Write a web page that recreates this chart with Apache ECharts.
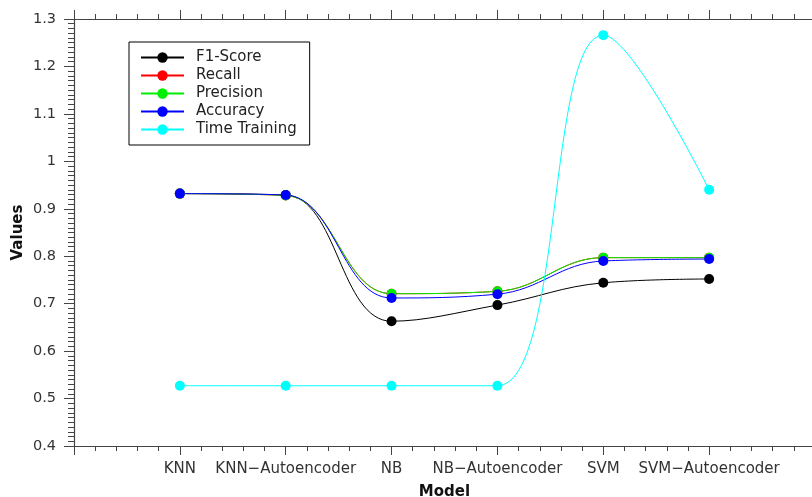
<!DOCTYPE html>
<html>
<head>
<meta charset="utf-8">
<script src="https://cdn.jsdelivr.net/npm/echarts@6/dist/echarts.min.js"></script>
<style>html,body{margin:0;padding:0;background:#fff;overflow:hidden}#c{position:absolute;left:0;top:0;width:812px;height:497px}</style>
</head>
<body>
<div id="c"></div>
<script>
const categories = ['KNN', 'KNN\u2212Autoencoder', 'NB', 'NB\u2212Autoencoder', 'SVM', 'SVM\u2212Autoencoder'];
const f1Score = [0.932, 0.929, 0.663, 0.697, 0.744, 0.752];
const recall = [0.932, 0.928, 0.721, 0.726, 0.797, 0.797];
const precision = [0.932, 0.928, 0.721, 0.726, 0.797, 0.797];
const accuracy = [0.932, 0.929, 0.712, 0.720, 0.790, 0.794];
const timeTraining = [0.527, 0.527, 0.527, 0.527, 1.266, 0.940];
const yTicks = { min: 0.4, max: 1.3, step: 0.1 };

const font = 'DejaVu Sans';
const toPts = arr => arr.map((v, i) => [i + 1, v]);

function mkSeries(name, data, color) {
  return {
    name, type: 'line', data: toPts(data), smooth: 0.4,
    symbol: 'circle', symbolSize: 10, showAllSymbol: true,
    lineStyle: { color, width: 1 }, itemStyle: { color },
    emphasis: { disabled: true }, clip: true
  };
}

const axisCommon = {
  type: 'value', min: 0, max: categories.length + 1, interval: 1,
  splitLine: { show: false },
  axisLine: { show: true, lineStyle: { color: '#444', width: 1.2 } },
  axisTick: { show: true, inside: false, length: 9, lineStyle: { color: '#444' } },
  minorTick: { show: true, splitNumber: 5, length: 5, lineStyle: { color: '#444' } },
  minorSplitLine: { show: false }
};

const chart = echarts.init(document.getElementById('c'), null, { renderer: 'canvas', width: 812, height: 497 });
chart.setOption({
  animation: false,
  backgroundColor: '#fff',
  grid: { left: 74, top: 19, bottom: 51, right: -3, containLabel: false, outerBoundsMode: 'none' },
  legend: {
    orient: 'vertical', left: 129, top: 42,
    data: ['F1-Score', 'Recall', 'Precision', 'Accuracy', 'Time Training'],
    borderColor: '#000', borderWidth: 1, padding: [8, 13, 8, 11],
    itemWidth: 43, itemHeight: 13, itemGap: 3,
    textStyle: { fontFamily: font, fontSize: 15, color: '#222', padding: [0, 0, 0, 7] }
  },
  xAxis: [
    Object.assign({}, axisCommon, {
      position: 'bottom',
      name: 'Model', nameLocation: 'middle', nameGap: 39, nameMoveOverlap: false,
      nameTextStyle: { fontFamily: font, fontSize: 15, fontWeight: 'bold', color: '#111' },
      axisLabel: {
        fontFamily: font, fontSize: 15, color: '#333', margin: 16,
        showMinLabel: true, showMaxLabel: true,
        formatter: v => (v >= 1 && v <= categories.length) ? categories[Math.round(v) - 1] : ''
      }
    }),
    Object.assign({}, axisCommon, {
      position: 'top',
      axisLabel: { show: false }
    })
  ],
  yAxis: {
    type: 'value', min: yTicks.min, max: yTicks.max, interval: yTicks.step,
    name: 'Values', nameLocation: 'middle', nameGap: 48, nameMoveOverlap: false,
    nameTextStyle: { fontFamily: font, fontSize: 15, fontWeight: 'bold', color: '#111' },
    splitLine: { show: false },
    axisLine: { show: true, lineStyle: { color: '#444', width: 1.2 } },
    axisTick: { show: true, inside: false, length: 10, lineStyle: { color: '#444' } },
    minorTick: { show: true, splitNumber: 10, length: 6, lineStyle: { color: '#444' } },
    axisLabel: {
      fontFamily: font, fontSize: 14.5, color: '#333', margin: 18,
      formatter: v => String(Math.round(v * 10) / 10)
    }
  },
  series: [
    mkSeries('F1-Score', f1Score, '#000000'),
    mkSeries('Recall', recall, '#ff0000'),
    mkSeries('Precision', precision, '#00ee00'),
    mkSeries('Accuracy', accuracy, '#0000ff'),
    mkSeries('Time Training', timeTraining, '#00ffff')
  ]
});
</script>
</body>
</html>
